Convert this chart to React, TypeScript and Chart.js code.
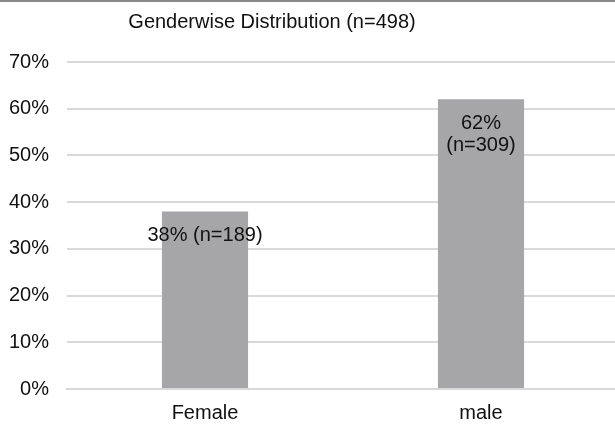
import React, { useEffect, useRef } from "react";
import { Chart, registerables } from "chart.js";

Chart.register(...registerables);

const TITLE = "Genderwise Distribution (n=498)";
const categories = ["Female", "male"];
const percentValues = [38, 62];
const counts = [189, 309];
const wrapLabel = [false, true];
const yTicks = [0, 10, 20, 30, 40, 50, 60, 70];

const FONT = "'Liberation Sans', Arial, sans-serif";
const TEXT = "#111111";

const decorations = {
  id: "decorations",
  afterDatasetsDraw(chart: any) {
    const ctx = chart.ctx;
    const meta = chart.getDatasetMeta(0);
    ctx.save();
    // top frame line
    ctx.fillStyle = "#8a8a8a";
    ctx.fillRect(0, 0, chart.width, 2);
    // title
    ctx.fillStyle = TEXT;
    ctx.font = `20px ${FONT}`;
    ctx.textAlign = "center";
    ctx.textBaseline = "middle";
    ctx.fillText(TITLE, 272, 22);
    // value labels inside bars
    meta.data.forEach((bar: any, i: number) => {
      const v = percentValues[i];
      const n = counts[i];
      const lines = wrapLabel[i] ? [`${v}%`, `(n=${n})`] : [`${v}% (n=${n})`];
      lines.forEach((line, j) => {
        ctx.fillText(line, bar.x, bar.y + 24 + j * 22);
      });
    });
    ctx.restore();
  },
};

export default function App() {
  const canvasRef = useRef<HTMLCanvasElement>(null);

  useEffect(() => {
    if (!canvasRef.current) return;
    const chart = new Chart(canvasRef.current, {
      type: "bar",
      data: {
        labels: categories,
        datasets: [
          {
            data: percentValues,
            backgroundColor: "#a6a6a8",
            barPercentage: 0.312,
            categoryPercentage: 1,
          },
        ],
      },
      options: {
        animation: false,
        responsive: false,
        devicePixelRatio: 1,
        layout: { padding: { top: 62, left: 0, right: 0, bottom: 0 } },
        plugins: {
          legend: { display: false },
          title: { display: false },
          tooltip: { enabled: false },
        },
        scales: {
          x: {
            afterFit: (s: any) => {
              s.height = 36;
            },
            grid: { display: false, drawTicks: false },
            border: { display: true, color: "#d9d9d9", width: 2 },
            ticks: {
              color: TEXT,
              font: { family: FONT, size: 20 },
              padding: 12,
            },
          },
          y: {
            min: 0,
            max: 70,
            afterFit: (s: any) => {
              s.width = 67;
            },
            afterBuildTicks: (s: any) => {
              s.ticks = yTicks.map((v) => ({ value: v }));
            },
            grid: { color: "#d9d9d9", lineWidth: 2, drawTicks: false },
            border: { display: false },
            ticks: {
              color: TEXT,
              font: { family: FONT, size: 20 },
              padding: 18,
              callback: (v: any) => `${v}%`,
            },
          },
        },
      },
      plugins: [decorations],
    });
    return () => chart.destroy();
  }, []);

  return (
    <div style={{ position: "fixed", left: 0, top: 0, width: 619, height: 425, background: "#fff" }}>
      <canvas ref={canvasRef} width={619} height={425} style={{ display: "block" }} />
    </div>
  );
}
